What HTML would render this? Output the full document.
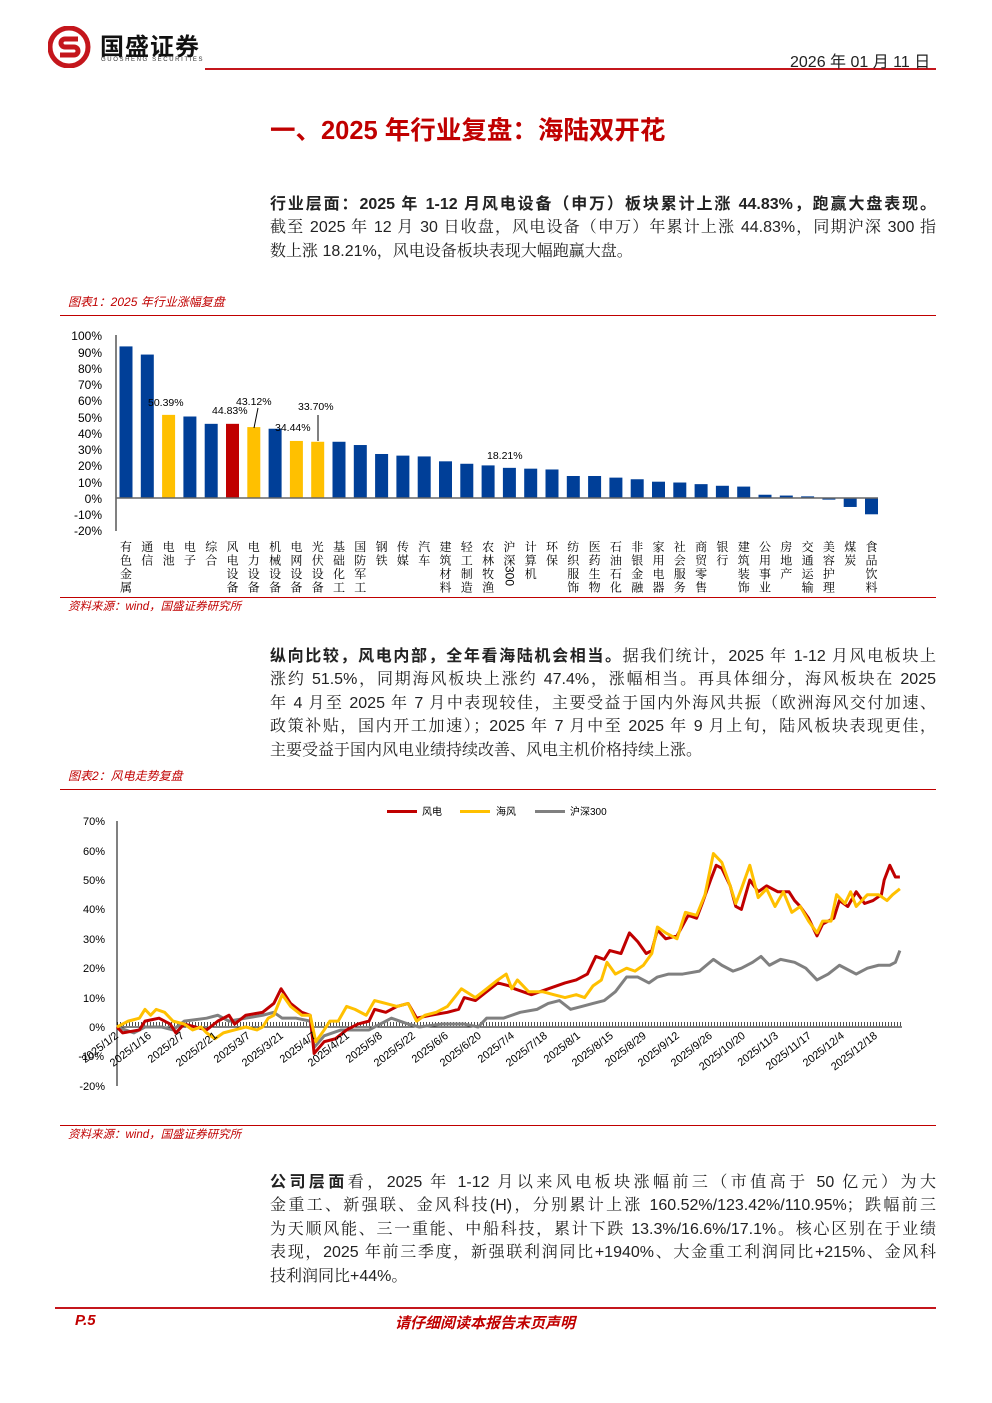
<!DOCTYPE html>
<html><head><meta charset="utf-8">
<style>
body{margin:0;width:992px;height:1403px;position:relative;background:#fff;font-family:"Liberation Sans","Noto Sans CJK SC",sans-serif;color:#222;overflow:hidden}
.a{position:absolute;white-space:nowrap}
.p{position:absolute;left:270px;width:666px;font-size:16px;line-height:23.4px;text-align:justify;text-align-last:justify;font-family:"Liberation Sans","Noto Serif CJK SC",serif;color:#222}
.p div{height:23.4px;white-space:nowrap;text-align:justify;text-align-last:justify}
.p div.l{text-align-last:left}
b{font-family:"Liberation Sans","Noto Sans CJK SC",sans-serif}
.cap{position:absolute;left:68px;font-size:12px;font-style:italic;color:#c00000;font-family:"Liberation Sans","Noto Sans CJK SC",sans-serif}
.rl{position:absolute;left:60px;width:876px;height:1px;background:#c00000}
</style></head><body>
<!-- header -->
<svg class="a" style="left:48px;top:26px" width="44" height="42" viewBox="0 0 44 42">
<circle cx="21" cy="21" r="19" fill="none" stroke="#c4161c" stroke-width="5"/>
<path d="M30 13 H17 a4 4 0 0 0 0 8 h9 a4 4 0 0 1 0 8 H12" fill="none" stroke="#c4161c" stroke-width="5"/>
</svg>
<div class="a" style="left:100px;top:27px;font-size:24px;font-weight:bold;color:#111;letter-spacing:1px;font-family:'Noto Sans CJK SC',sans-serif">国盛证券</div>
<div class="a" style="left:101px;top:57px;font-size:6px;letter-spacing:1.6px;color:#333">GUOSHENG SECURITIES</div>
<div class="a" style="left:205px;top:68px;width:731px;height:2px;background:#c4161c"></div>
<div class="a" style="left:790px;top:48px;font-size:16px;color:#222">2026 年 01 月 11 日</div>
<!-- title -->
<div class="a" style="left:270px;top:110px;font-size:25.5px;font-weight:bold;color:#c00000;font-family:'Liberation Sans','Noto Sans CJK SC',sans-serif">一、2025 年行业复盘：海陆双开花</div>
<!-- para1 -->
<div class="p" style="top:193px">
<div><b>行业层面：2025 年 1-12 月风电设备（申万）板块累计上涨 44.83%，跑赢大盘表现。</b></div>
<div>截至 2025 年 12 月 30 日收盘，风电设备（申万）年累计上涨 44.83%，同期沪深 300 指</div>
<div class="l">数上涨 18.21%，风电设备板块表现大幅跑赢大盘。</div>
</div>
<div class="cap" style="top:293px">图表1：2025 年行业涨幅复盘</div>
<div class="rl" style="top:315px"></div>
<!-- bar chart -->
<svg class="a" style="left:0;top:0" width="992" height="600" id="bsvg"></svg>
<svg class="a" style="left:0;top:0" width="992" height="600">
<g font-size="12" fill="#000" text-anchor="end">
<text x="102" y="340">100%</text><text x="102" y="357">90%</text><text x="102" y="373">80%</text><text x="102" y="389">70%</text><text x="102" y="405">60%</text><text x="102" y="422">50%</text><text x="102" y="438">40%</text><text x="102" y="454">30%</text><text x="102" y="470">20%</text><text x="102" y="487">10%</text><text x="102" y="503">0%</text><text x="102" y="519">-10%</text><text x="102" y="535">-20%</text>
</g>
<line x1="116" y1="335" x2="116" y2="531" stroke="#000"/>
<line x1="116" y1="498" x2="878" y2="498" stroke="#666" stroke-width="1.5"/>
<g font-size="10.5" fill="#000">
<text x="148" y="406">50.39%</text><text x="212" y="414">44.83%</text><text x="236" y="405">43.12%</text><text x="275" y="431">34.44%</text><text x="298" y="410">33.70%</text><text x="487" y="459">18.21%</text>
</g>
<line x1="258" y1="408" x2="254" y2="428" stroke="#000" stroke-width="1"/>
<line x1="318" y1="415" x2="318" y2="441" stroke="#000" stroke-width="1"/>
</svg>
<div class="rl" style="top:597px"></div>
<div class="cap" style="top:598px;font-size:11.5px">资料来源：wind，国盛证券研究所</div>
<!-- para2 -->
<div class="p" style="top:645px">
<div><b>纵向比较，风电内部，全年看海陆机会相当。</b>据我们统计，2025 年 1-12 月风电板块上</div>
<div>涨约 51.5%，同期海风板块上涨约 47.4%，涨幅相当。再具体细分，海风板块在 2025</div>
<div>年 4 月至 2025 年 7 月中表现较佳，主要受益于国内外海风共振（欧洲海风交付加速、</div>
<div>政策补贴，国内开工加速）；2025 年 7 月中至 2025 年 9 月上旬，陆风板块表现更佳，</div>
<div class="l">主要受益于国内风电业绩持续改善、风电主机价格持续上涨。</div>
</div>
<div class="cap" style="top:767px">图表2：风电走势复盘</div>
<div class="rl" style="top:789px"></div>
<!-- line chart -->
<svg class="a" style="left:0;top:790px" width="992" height="335">
<g transform="translate(0,-790)">
<g font-size="10" fill="#000">
<rect x="387" y="810" width="30" height="3" fill="#c00000"/><text x="422" y="815">风电</text>
<rect x="460" y="810" width="30" height="3" fill="#ffc000"/><text x="496" y="815">海风</text>
<rect x="535" y="810" width="30" height="3" fill="#808080"/><text x="570" y="815">沪深300</text>
</g>
<g font-size="11" fill="#000" text-anchor="end">
<text x="105" y="825">70%</text><text x="105" y="855">60%</text><text x="105" y="884">50%</text><text x="105" y="913">40%</text><text x="105" y="943">30%</text><text x="105" y="972">20%</text><text x="105" y="1002">10%</text><text x="105" y="1031">0%</text><text x="105" y="1090">-20%</text>
</g>
<line x1="117" y1="821" x2="117" y2="1086" stroke="#000"/>
<line x1="117" y1="1027" x2="902" y2="1027" stroke="#000"/>
<line x1="117" y1="1024" x2="902" y2="1024" stroke="#000" stroke-dasharray="1 2" stroke-width="4" opacity=".7"/>
<g transform="translate(61,1027) scale(0.56,-2.94)" fill="none" stroke-linejoin="round">
<polyline vector-effect="non-scaling-stroke" stroke="#808080" stroke-width="3" points="100,0 130,-2 150,0 180,0 200,-1 220,2 260,3 280,4 300,2 330,3 360,4 380,5 395,3 420,3 445,2 452,-7 470,-3 500,-1 540,-1 550,-1 570,1 590,3 620,1 640,0 680,1 720,1 745,0 760,3 790,3 820,5 850,6 870,8 890,9 910,6 930,7 950,8 970,9 990,12 1010,17 1030,17 1050,15 1065,17 1085,18 1110,18 1140,19 1165,23 1180,21 1200,19 1215,20 1235,22 1250,24 1265,21 1285,23 1310,22 1330,20 1350,16 1370,18 1390,21 1410,19 1420,18 1440,20 1460,21 1480,21 1490,22 1498,26"/>
<polyline vector-effect="non-scaling-stroke" stroke="#c00000" stroke-width="3" points="100,0 110,-2 140,-1 150,2 175,3 195,1 205,-2 220,1 240,0 260,-1 280,2 300,4 310,1 330,4 360,5 380,8 393,13 410,8 430,5 445,4 452,-9 470,-5 490,-4 510,-1 530,1 550,2 560,6 580,5 600,7 620,8 635,3 660,4 690,5 710,6 720,10 740,9 760,12 780,15 800,14 810,13 840,11 870,13 900,15 920,16 940,18 955,24 970,23 980,26 1000,25 1015,32 1030,29 1045,25 1055,26 1065,33 1080,30 1100,31 1120,38 1135,37 1145,42 1160,50 1170,55 1180,54 1195,48 1205,41 1215,40 1230,50 1245,46 1260,48 1280,46 1300,46 1310,43 1320,41 1335,37 1350,31 1360,35 1380,37 1390,43 1405,41 1420,46 1435,42 1450,43 1465,45 1470,50 1480,55 1490,51 1498,51"/>
<polyline vector-effect="non-scaling-stroke" stroke="#ffc000" stroke-width="3" points="100,0 120,2 140,3 150,6 160,4 170,6 185,5 200,2 220,1 235,-1 250,0 260,-2 275,-4 290,-2 310,-1 330,0 350,-1 360,0 370,3 380,4 395,11 410,7 430,4 445,4 455,-5 470,-1 480,2 495,2 510,7 525,6 545,4 560,9 580,8 600,7 620,8 635,2 650,4 670,5 690,7 715,13 740,10 760,13 780,16 795,18 805,13 815,16 835,12 860,12 880,11 900,10 920,11 935,10 950,14 965,16 975,22 990,18 1010,20 1025,19 1040,21 1055,25 1065,34 1080,32 1100,30 1115,39 1135,38 1150,45 1165,59 1180,56 1195,48 1205,42 1215,47 1230,55 1245,44 1260,47 1275,41 1290,46 1305,39 1320,41 1335,36 1350,32 1360,36 1375,36 1385,45 1400,42 1410,46 1420,41 1440,45 1460,45 1475,43 1485,45 1498,47"/>
</g>
</g>
</svg>
<svg class="a" style="left:0;top:0" width="992" height="1125" id="xsvg"></svg>
<div class="rl" style="top:1125px"></div>
<div class="cap" style="top:1126px;font-size:11.5px">资料来源：wind，国盛证券研究所</div>
<!-- para3 -->
<div class="p" style="top:1171px">
<div><b>公司层面</b>看，2025 年 1-12 月以来风电板块涨幅前三（市值高于 50 亿元）为大　　　</div>
<div>金重工、新强联、金风科技(H)，分别累计上涨 160.52%/123.42%/110.95%；跌幅前三</div>
<div>为天顺风能、三一重能、中船科技，累计下跌 13.3%/16.6%/17.1%。核心区别在于业绩</div>
<div>表现，2025 年前三季度，新强联利润同比+1940%、大金重工利润同比+215%、金风科</div>
<div class="l">技利润同比+44%。</div>
</div>
<!-- footer -->
<div class="a" style="left:55px;top:1307px;width:881px;height:2px;background:#c4161c"></div>
<div class="a" style="left:75px;top:1312px;font-size:15px;font-weight:bold;font-style:italic;color:#c00000">P.5</div>
<div class="a" style="left:395px;top:1312px;font-size:15px;font-weight:bold;font-style:italic;color:#c00000;font-family:'Liberation Sans','Noto Sans CJK SC',sans-serif">请仔细阅读本报告末页声明</div>
<script>
var names=["有色金属","通信","电池","电子","综合","风电设备","电力设备","机械设备","电网设备","光伏设备","基础化工","国防军工","钢铁","传媒","汽车","建筑材料","轻工制造","农林牧渔","沪深300","计算机","环保","纺织服饰","医药生物","石油石化","非银金融","家用电器","社会服务","商贸零售","银行","建筑装饰","公用事业","房地产","交通运输","美容护理","煤炭","食品饮料"];
var vals=[93,88,51,50,45.5,45.5,43.5,42.5,35,34.5,34.5,32.5,27,26,25.5,22.5,21,20,18.5,18,17.5,13.5,13.5,12.5,11.5,10,9.5,8.5,7.5,7,2,1.5,1,-1,-5.5,-10];
var col={2:"#ffc000",5:"#c00000",6:"#ffc000",8:"#ffc000",9:"#ffc000"};
var s="";
for(var i=0;i<36;i++){var cx=126+i*21.3,v=vals[i],h=Math.abs(v)*1.63,y=v>=0?498-h:498;
s+='<rect x="'+(cx-6.5)+'" y="'+y+'" width="13" height="'+h+'" fill="'+(col[i]||"#003f98")+'"/>';
var n=names[i];if(n=="沪深300"){s+='<text x="'+cx+'" y="566" font-size="12" transform="rotate(90 '+cx+' 566)" dy="4">300</text>';n="沪深";}
for(var k=0;k<n.length;k++)s+='<text x="'+cx+'" y="'+(551+k*13.5)+'" font-size="12" text-anchor="middle" font-family="Noto Serif CJK SC,serif">'+n[k]+'</text>';}
document.getElementById("bsvg").innerHTML=s;
var d=["2025/1/2","2025/1/16","2025/2/7","2025/2/21","2025/3/7","2025/3/21","2025/4/7","2025/4/21","2025/5/8","2025/5/22","2025/6/6","2025/6/20","2025/7/4","2025/7/18","2025/8/1","2025/8/15","2025/8/29","2025/9/12","2025/9/26","2025/10/20","2025/11/3","2025/11/17","2025/12/4","2025/12/18"];
var t='<text x="104" y="1060" font-size="11" text-anchor="end">-10%</text>';
for(var j=0;j<d.length;j++){var x=119+j*33.0,y=1037;t+='<text x="'+x+'" y="'+y+'" font-size="11" text-anchor="end" transform="rotate(-38 '+x+' '+y+')">'+d[j]+'</text>';}
document.getElementById("xsvg").innerHTML=t;
</script>
</body></html>
